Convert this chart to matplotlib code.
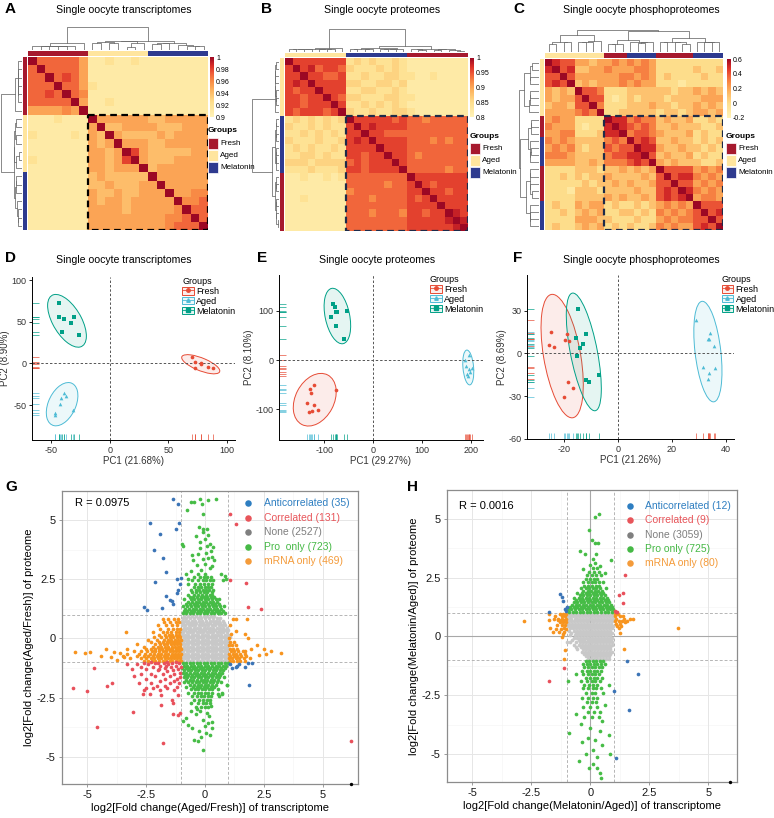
import numpy as np
import matplotlib
matplotlib.use("Agg")
import matplotlib.pyplot as plt
from matplotlib.colors import LinearSegmentedColormap, Normalize, to_rgb, to_rgba
from matplotlib.patches import Rectangle, Ellipse, Patch
from matplotlib.lines import Line2D

plt.rcParams['font.family'] = ['Liberation Sans', 'DejaVu Sans']
plt.rcParams['axes.unicode_minus'] = False

W, H = 774, 818
fig = plt.figure(figsize=(W / 100, H / 100), dpi=100)


def px_axes(l, t, r, b):
    return fig.add_axes([l / W, 1 - b / H, (r - l) / W, (b - t) / H])


# ---------------- heatmap data (lower triangle, one char per cell, X = diagonal)
# A: value = 0.90 + d*0.01
heatA_rows = [
    "X", "7X", "77X", "777X", "7787X", "77777X", "555565X",
    "1112111X", "11111115X", "211112154X", "1111111545X", "11111115545X",
    "211111155458X", "1111111554555X",
    "11111114544444X", "111111144544455X", "1111111544544555X",
    "11111115455455555X", "111111155554555556X", "1111111555555555667X",
    "11111115555555556777X",
]
groupsA = ['Fresh'] * 7 + ['Aged'] * 7 + ['Melatonin'] * 7
# B: value = 0.80 + d*0.02
heatB_rows = [
    "X", "8X", "88X", "898X", "8788X", "88788X", "887888X", "8788878X",
    "23232323X", "322323228X", "2232323288X", "32223223898X",
    "232322328888X", "2233232288788X", "33323333787888X", "222322238878888X",
    "1121121277777777X", "11111111777776778X", "111111116777777788X",
    "1121111177767777878X", "11111111777777778888X", "111111117776777688788X",
    "1111111177777777888889X", "11111111777777778888889X",
]
groupsB = ['Aged'] * 8 + ['Melatonin'] * 8 + ['Fresh'] * 8
# C: value = -0.2 + d*0.1
heatC_rows = [
    "X", "7X", "66X", "676X", "4343X", "43446X", "344366X", "4444565X",
    "45442222X", "544421227X", "4455222377X", "54543333565X",
    "454532336566X", "5554333356677X", "44443343555676X",
    "222233323343434X", "2232323343333436X", "22222323343433466X",
    "222133323333433676X", "2222333343433436767X", "23224344232232345454X",
    "223234342233232545456X", "2222444332223224545566X", "23223434232322354544676X",
]
groupsC = ['Aged'] * 8 + ['Fresh'] * 3 + ['Melatonin'] * 4 + ['Fresh'] * 5 + ['Melatonin'] * 4

group_names = ['Fresh', 'Aged', 'Melatonin']
group_colors = {'Fresh': '#A6192E', 'Aged': '#FFE59E', 'Melatonin': '#2E3A8F'}
heat_cmap = LinearSegmentedColormap.from_list(
    'heat', [(0, '#FFF3B8'), (0.25, '#FEDE8C'), (0.45, '#FDB35F'), (0.6, '#F88A45'),
             (0.72, '#F0603A'), (0.85, '#DC2F28'), (1, '#9C0824')])

# ---------------- PCA data
pca_colors = {'Fresh': '#E64B35', 'Aged': '#4DBBD5', 'Melatonin': '#00A087'}
pca_markers = {'Fresh': 'o', 'Aged': '^', 'Melatonin': 's'}
pcaD = {
    'Fresh': [(70, 7.6), (73, 2), (72.6, -5), (77.7, -1), (78, 0), (84, -4.4), (88.6, -5.6)],
    'Aged': [(-39, -35), (-37.4, -39), (-41.7, -42), (-42.6, -49), (-31.4, -55.6), (-46.9, -60), (-47, -62)],
    'Melatonin': [(-43.7, 73.2), (-43.4, 56), (-39, 53), (-31, 56), (-33, 49), (-40.6, 38), (-26, 34)],
}
pcaE = {
    'Fresh': [(-120, -50), (-129, -58), (-126, -66), (-75, -60), (-135, -87), (-120, -90),
              (-131, -105), (-124, -104), (-112, -102)],
    'Aged': [(194.6, 10.2), (187.8, 0.7), (189, -10.8), (196, -17), (201.4, -16.3), (191, -28.5),
             (198, -24.4), (194, -31.9)],
    'Melatonin': [(-82, 114.6), (-77.6, 108), (-76, 98), (-73, 97), (-53, 100), (-86, 87), (-76, 69), (-60, 44)],
}
pcaF = {
    'Fresh': [(-24.6, 15.2), (-25.6, 6), (-23.7, 4.7), (-18.8, 13.6), (-19.4, 9.4), (-18.2, 8.7),
              (-18.6, -19.7), (-16.6, -24.4), (-19.8, -30.2)],
    'Aged': [(28.9, 23.2), (34.2, 14), (33.2, 10), (33.6, 10.4), (35.5, 5.4), (31.4, -9.4), (36, -10.3),
             (33.8, -13.6), (33.5, -18)],
    'Melatonin': [(-14.8, 30.9), (-11.6, 13.8), (-15.3, 10.5), (-12.9, 6.6), (-14, 3.5), (-15.1, -2.1),
                  (-11.7, -18.7), (-10.7, -19.7), (-7.1, -15.2)],
}

# ---------------- scatter data G (Aged/Fresh)
G_none_rows = [
    (0.95, [-0.9, -0.7, -0.55, -0.4, -0.2, -0.05, 0.1, 0.25, 0.4]),
    (0.85, [-0.95, -0.8, -0.62, -0.48, -0.3, -0.15, 0.02, 0.18, 0.33, 0.5, 0.62]),
    (0.75, [-0.97, -0.85, -0.7, -0.55, -0.42, -0.27, -0.12, 0.05, 0.2, 0.35, 0.48, 0.6, 0.75]),
    (0.65, [-0.92, -0.78, -0.64, -0.5, -0.36, -0.22, -0.08, 0.07, 0.22, 0.37, 0.52, 0.66, 0.8]),
    (0.55, [-0.96, -0.83, -0.69, -0.55, -0.41, -0.27, -0.13, 0.01, 0.15, 0.3, 0.44, 0.58, 0.72, 0.86]),
    (0.45, [-0.9, -0.76, -0.62, -0.48, -0.34, -0.2, -0.06, 0.08, 0.22, 0.36, 0.5, 0.64, 0.78, 0.92]),
    (0.35, [-0.97, -0.83, -0.69, -0.55, -0.41, -0.27, -0.13, 0.02, 0.16, 0.3, 0.44, 0.58, 0.72, 0.86, 0.97]),
    (0.25, [-0.92, -0.77, -0.63, -0.49, -0.35, -0.21, -0.07, 0.08, 0.22, 0.36, 0.5, 0.64, 0.78, 0.92]),
    (0.15, [-0.97, -0.84, -0.7, -0.56, -0.42, -0.28, -0.14, 0.0, 0.14, 0.28, 0.42, 0.56, 0.7, 0.84, 0.98]),
    (0.05, [-0.9, -0.77, -0.63, -0.49, -0.35, -0.21, -0.07, 0.07, 0.21, 0.35, 0.49, 0.63, 0.77, 0.91, 1.05]),
    (-0.05, [-0.97, -0.84, -0.7, -0.56, -0.42, -0.28, -0.14, 0.0, 0.14, 0.28, 0.42, 0.56, 0.7, 0.84, 0.98]),
    (-0.15, [-0.92, -0.77, -0.63, -0.49, -0.35, -0.21, -0.07, 0.07, 0.21, 0.35, 0.49, 0.63, 0.77, 0.91]),
    (-0.25, [-0.97, -0.84, -0.7, -0.56, -0.42, -0.28, -0.14, 0.0, 0.14, 0.28, 0.42, 0.56, 0.7, 0.84, 0.98]),
    (-0.35, [-0.9, -0.77, -0.63, -0.49, -0.35, -0.21, -0.07, 0.07, 0.21, 0.35, 0.49, 0.63, 0.77, 0.91]),
    (-0.45, [-0.97, -0.84, -0.7, -0.56, -0.42, -0.28, -0.14, 0.0, 0.14, 0.28, 0.42, 0.56, 0.7, 0.84, 0.96]),
    (-0.55, [-0.92, -0.77, -0.63, -0.49, -0.35, -0.21, -0.07, 0.07, 0.21, 0.35, 0.49, 0.63, 0.77, 0.91]),
    (-0.65, [-0.97, -0.84, -0.7, -0.56, -0.42, -0.28, -0.14, 0.0, 0.14, 0.28, 0.42, 0.56, 0.7, 0.84, 0.97]),
    (-0.75, [-0.9, -0.77, -0.63, -0.49, -0.35, -0.21, -0.07, 0.07, 0.21, 0.35, 0.49, 0.63, 0.77, 0.91]),
    (-0.85, [-0.97, -0.84, -0.7, -0.56, -0.42, -0.28, -0.14, 0.0, 0.14, 0.28, 0.42, 0.56, 0.7, 0.84, 0.97]),
    (-0.95, [-0.92, -0.77, -0.63, -0.49, -0.35, -0.21, -0.07, 0.07, 0.21, 0.35, 0.49, 0.63, 0.77, 0.91]),
]
G_pro_rows = [
    (1.05, [-0.95, -0.8, -0.65, -0.5, -0.35, -0.2, -0.05, 0.1, 0.25, 0.4, 0.55, 0.7, 0.85]),
    (1.15, [-0.9, -0.75, -0.6, -0.45, -0.3, -0.15, 0.0, 0.15, 0.3, 0.45, 0.6, 0.75]),
    (1.25, [-0.85, -0.68, -0.52, -0.38, -0.22, -0.08, 0.08, 0.22, 0.38, 0.52, 0.68]),
    (1.35, [-0.92, -0.75, -0.6, -0.42, -0.28, -0.12, 0.02, 0.18, 0.33, 0.48, 0.62, 0.8]),
    (1.45, [-0.8, -0.62, -0.48, -0.32, -0.18, -0.02, 0.12, 0.28, 0.42, 0.58]),
    (1.55, [-0.7, -0.55, -0.4, -0.25, -0.1, 0.05, 0.2, 0.35, 0.5]),
    (1.65, [-0.88, -0.6, -0.45, -0.3, -0.15, 0.0, 0.15, 0.3, 0.45, 0.6]),
    (1.75, [-0.65, -0.5, -0.32, -0.18, -0.05, 0.1, 0.25, 0.4]),
    (1.85, [-0.72, -0.45, -0.3, -0.12, 0.05, 0.2, 0.32]),
    (1.95, [-0.55, -0.38, -0.2, -0.05, 0.1, 0.28]),
    (2.05, [-0.6, -0.4, -0.25, -0.1, 0.05, 0.18, 0.35]),
    (2.15, [-0.48, -0.3, -0.15, 0.0, 0.12, 0.25]),
    (2.3, [-0.7, -0.42, -0.22, -0.02, 0.15, 0.3]),
    (2.45, [-0.55, -0.3, -0.1, 0.05, 0.2, 0.35, 0.78]),
    (2.6, [-0.45, -0.2, -0.05, 0.1, 0.25]),
    (2.7, [-0.8, -0.3, 0.02, 0.7]),
    (-1.05, [-0.95, -0.8, -0.65, -0.5, -0.35, -0.2, -0.05, 0.1, 0.25, 0.4, 0.55, 0.7, 0.85, 0.97]),
    (-1.15, [-0.9, -0.75, -0.6, -0.45, -0.3, -0.15, 0.0, 0.15, 0.3, 0.45, 0.6, 0.75, 0.9]),
    (-1.25, [-0.97, -0.82, -0.68, -0.52, -0.38, -0.22, -0.08, 0.08, 0.22, 0.38, 0.52, 0.68, 0.85]),
    (-1.35, [-0.88, -0.72, -0.58, -0.42, -0.28, -0.12, 0.02, 0.18, 0.33, 0.48, 0.62, 0.78]),
    (-1.45, [-0.95, -0.8, -0.62, -0.48, -0.32, -0.18, -0.02, 0.12, 0.28, 0.42, 0.58, 0.72]),
    (-1.55, [-0.85, -0.7, -0.55, -0.4, -0.25, -0.1, 0.05, 0.2, 0.35, 0.5, 0.65]),
    (-1.65, [-0.9, -0.75, -0.6, -0.45, -0.3, -0.15, 0.0, 0.15, 0.3, 0.45, 0.6, 0.8]),
    (-1.75, [-0.8, -0.65, -0.5, -0.32, -0.18, -0.05, 0.1, 0.25, 0.4, 0.55]),
    (-1.85, [-0.9, -0.72, -0.55, -0.4, -0.25, -0.1, 0.05, 0.2, 0.35, 0.5, 0.7]),
    (-1.95, [-0.62, -0.45, -0.3, -0.15, 0.0, 0.15, 0.3, 0.45, 0.92]),
    (-2.05, [-0.8, -0.5, -0.35, -0.2, -0.05, 0.1, 0.25, 0.4]),
    (-2.15, [-0.6, -0.42, -0.28, -0.12, 0.02, 0.18, 0.32, 0.55]),
    (-2.3, [-0.7, -0.48, -0.3, -0.15, 0.0, 0.15, 0.3, 0.71]),
    (-2.45, [-0.55, -0.35, -0.18, -0.02, 0.12, 0.25, 0.6]),
    (-2.6, [-0.45, -0.25, -0.08, 0.08, 0.22]),
    (-2.75, [-0.6, -0.3, -0.1, 0.05, 0.2]),
    (-2.9, [-0.4, -0.15, 0.0, 0.15]),
]
G_pro_pts = [(-0.6, 2.85), (-0.15, 2.9), (0.2, 2.95), (-0.35, 3.1), (0.0, 3.15), (0.3, 3.05), (-0.5, 3.3),
             (-0.1, 3.35), (0.15, 3.4), (0.4, 3.3), (-0.3, 3.55), (0.05, 3.6), (0.25, 3.7), (-0.56, 3.51),
             (-0.2, 3.8), (0.1, 3.9), (0.35, 3.86), (-0.92, 3.9), (-0.96, 4.0), (-0.21, 4.07), (0.0, 4.2),
             (0.14, 4.35), (-0.1, 4.5), (-0.24, 4.68), (-0.07, 4.63), (0.07, 4.61), (-0.14, 5.69), (-0.07, 5.27),
             (-0.75, 5.41), (-0.59, 5.76), (-0.45, 5.76), (-0.21, 5.9), (0.11, 5.86), (0.47, 5.87), (0.2, 4.0),
             (-0.4, 4.3), (0.3, 3.45), (-0.7, 2.5), (0.85, 2.65), (0.9, 2.5),
             (-0.95, -3.5), (-0.82, -3.35), (-0.71, -3.65), (-0.55, -3.8), (-0.4, -3.2), (-0.2, -3.05),
             (0.1, -3.16), (0.18, -3.3), (0.14, -3.58), (0.32, -3.55), (-0.1, -3.45), (0.0, -3.7),
             (-0.25, -3.9), (0.05, -4.0), (-0.15, -4.15), (-0.28, -4.35), (-0.48, -4.3), (-0.1, -4.7),
             (0.2, -4.1), (0.92, -1.97), (0.71, -2.35), (0.57, -2.35), (-0.35, -3.0), (0.25, -2.85),
             (-0.6, -3.05), (0.3, -3.8)]
G_mrna_rows = [
    (-0.95, [-2.6, -2.4, -2.25, -2.1, -1.95, -1.8, -1.65, -1.5, -1.38, -1.25, -1.12, -1.02,
             1.05, 1.2, 1.35, 1.5, 1.7]),
    (-0.85, [-3.2, -2.7, -2.5, -2.3, -2.15, -2.0, -1.85, -1.7, -1.55, -1.42, -1.3, -1.18, -1.05,
             1.02, 1.15, 1.3, 1.45, 1.65, 1.9]),
    (-0.75, [-3.5, -2.9, -2.6, -2.4, -2.2, -2.05, -1.9, -1.75, -1.6, -1.45, -1.32, -1.2, -1.08,
             1.08, 1.22, 1.38, 1.55, 1.75]),
    (-0.65, [-3.3, -2.8, -2.55, -2.35, -2.15, -2.0, -1.85, -1.7, -1.55, -1.4, -1.28, -1.15, -1.03,
             1.03, 1.18, 1.32, 1.48, 1.72, 2.61]),
    (-0.55, [-3.0, -2.7, -2.45, -2.25, -2.1, -1.95, -1.8, -1.65, -1.5, -1.35, -1.22, -1.1,
             1.1, 1.25, 1.42, 1.72, 2.82]),
    (-0.45, [-3.3, -2.5, -2.3, -2.12, -1.97, -1.82, -1.67, -1.52, -1.38, -1.25, -1.12, -1.02,
             1.05, 1.2, 1.38, 2.51]),
    (-0.35, [-2.6, -2.2, -2.0, -1.85, -1.7, -1.55, -1.4, -1.28, -1.15, -1.05]),
    (-0.3, [1.02, 1.15, 1.3, 2.19]),
    (-0.25, [-2.9, -2.1, -1.9, -1.75, -1.6, -1.45, -1.32, -1.2, -1.08]),
    (-0.15, [-2.3, -1.95, -1.8, -1.62, -1.48, -1.35, -1.22, -1.1, 1.08, 1.25]),
    (-0.05, [-2.4, -2.05, -1.75, -1.58, -1.42, -1.28, -1.15, -1.03]),
    (0.0, [1.04, 1.84]),
    (0.05, [-2.15, -1.85, -1.65, -1.5, -1.35, -1.2, -1.08]),
    (0.15, [-1.95, -1.7, -1.52, -1.38, -1.22, -1.1]),
    (0.17, [1.1, 1.72]),
    (0.28, [-3.35, -2.2, -1.8, -1.6, -1.42, -1.25, -1.1]),
    (0.31, [1.34]),
    (0.4, [-1.9, -1.55, -1.35, -1.18, -1.05]),
    (0.55, [-2.0, -1.65, -1.4, -1.2, 1.05]),
    (0.7, [-1.75, -1.5, -1.25, -1.1]),
    (0.8, [1.2, 1.31, 1.77]),
    (0.82, [-1.79, -1.55, -1.3, -1.15]),
]
G_mrna_pts = [(-5.51, -0.58), (-5.08, -0.63), (-4.9, -0.56), (-4.19, -0.45), (-3.88, -0.56), (-4.0, -0.77),
              (-3.6, -0.6), (-3.75, -0.9), (-3.45, -0.8), (-4.4, -0.75), (3.22, -0.6), (1.6, -0.55),
              (2.3, -0.7), (1.95, -0.45)]
G_cor_pts = [(1.06, 5.25), (1.3, 4.82), (1.06, 2.46), (1.74, 2.32), (1.82, 1.33), (2.4, 1.22), (6.21, -4.33),
             (-5.6, -2.1), (-5.0, -2.22), (-4.73, -1.26), (-4.59, -3.75), (-4.17, -2.0), (-3.93, -1.9),
             (-3.04, -3.13), (-2.61, -2.36), (-2.51, -2.1), (-1.86, -2.81), (-1.79, -4.44), (-1.34, -2.74),
             (-1.34, -3.2), (-1.16, -3.23), (-1.06, -3.17),
             (-2.9, -1.1), (-2.7, -1.2), (-2.6, -1.05), (-2.5, -1.3), (-2.4, -1.1), (-2.3, -1.5), (-2.2, -1.2),
             (-2.1, -1.05), (-2.0, -1.35), (-1.9, -1.15), (-1.8, -1.5), (-1.75, -1.05), (-1.7, -1.25),
             (-1.6, -1.4), (-1.55, -1.1), (-1.5, -1.6), (-1.45, -1.2), (-1.4, -1.05), (-1.35, -1.35),
             (-1.3, -1.5), (-1.25, -1.15), (-1.2, -1.7), (-1.15, -1.3), (-1.1, -1.05), (-1.05, -1.45),
             (-1.02, -1.2), (-1.1, -1.9), (-1.3, -1.8), (-1.5, -1.9), (-1.7, -1.7), (-1.9, -1.8),
             (-2.1, -1.6), (-2.3, -1.9), (-2.5, -1.7), (-2.7, -1.5), (-3.1, -1.3), (-3.3, -1.1),
             (-2.2, -2.1), (-1.9, -2.2), (-1.6, -2.1), (-1.3, -2.2), (-1.15, -2.4), (-2.8, -1.9),
             (-3.0, -1.6), (-1.4, -2.6), (-1.85, -2.4), (-2.05, -2.0), (-1.25, -1.0), (-1.6, -1.02),
             (-2.0, -1.03), (-2.3, -1.02), (-1.05, -1.65), (-1.2, -2.05), (-1.7, -2.0), (-2.6, -2.2),
             (-2.35, -2.35), (-1.95, -1.3), (-1.65, -1.15)]
G_anti_pts = [(-1.37, 5.9), (-1.16, 5.69), (-2.33, 4.87), (-1.91, 4.42), (-1.24, 4.6), (-1.1, 4.87),
              (-2.16, 3.75), (-1.77, 3.4), (-1.67, 2.78), (-2.13, 2.39), (-1.2, 2.49), (-1.03, 2.56),
              (-1.06, 2.28), (-1.16, 2.04), (-1.2, 1.9), (-1.67, 1.8), (-1.5, 1.62), (-1.4, 1.57),
              (-1.82, 1.29), (-2.58, 1.33), (-2.46, 1.19), (-1.36, 1.45),
              (1.06, -1.08), (1.16, -1.24), (1.3, -1.19), (1.44, -1.1), (1.69, -1.22), (2.0, -1.03),
              (1.84, -1.05), (1.85, -1.97), (1.38, -1.15)]

# ---------------- scatter data H (Melatonin/Aged)
H_none_rows = [
    (0.95, [-0.95, -0.82, -0.7, -0.57, -0.45, -0.32, -0.2, -0.07, 0.05, 0.18, 0.3, 0.43, 0.55, 0.68, 0.8, 0.92]),
    (0.85, [-0.98, -0.85, -0.72, -0.6, -0.47, -0.35, -0.22, -0.1, 0.02, 0.15, 0.28, 0.4, 0.52, 0.65, 0.78, 0.9]),
    (0.75, [-0.92, -0.8, -0.67, -0.55, -0.42, -0.3, -0.17, -0.05, 0.08, 0.2, 0.33, 0.45, 0.58, 0.7, 0.83, 0.95]),
    (0.65, [-0.96, -0.83, -0.7, -0.58, -0.45, -0.33, -0.2, -0.08, 0.05, 0.17, 0.3, 0.42, 0.55, 0.67, 0.8, 0.92]),
    (0.55, [-0.9, -0.77, -0.64, -0.52, -0.4, -0.27, -0.15, -0.02, 0.1, 0.23, 0.35, 0.48, 0.6, 0.73, 0.86]),
    (0.45, [-0.95, -0.8, -0.68, -0.55, -0.43, -0.3, -0.18, -0.05, 0.07, 0.2, 0.32, 0.45, 0.57, 0.7, 0.82, 0.95]),
    (0.35, [-0.88, -0.74, -0.6, -0.48, -0.35, -0.22, -0.1, 0.03, 0.15, 0.28, 0.4, 0.53, 0.65, 0.78, 0.9]),
    (0.25, [-0.9, -0.7, -0.55, -0.42, -0.3, -0.17, -0.05, 0.08, 0.2, 0.33, 0.45, 0.58, 0.7, 0.83]),
    (0.15, [-0.8, -0.62, -0.48, -0.35, -0.22, -0.1, 0.03, 0.15, 0.28, 0.4, 0.53, 0.65, 0.78, 0.92]),
    (0.05, [-0.85, -0.66, -0.52, -0.4, -0.27, -0.15, -0.02, 0.1, 0.23, 0.35, 0.48, 0.6, 0.72, 0.85]),
    (-0.05, [-0.7, -0.55, -0.42, -0.3, -0.17, -0.05, 0.08, 0.2, 0.32, 0.45, 0.58, 0.7, 0.82, 0.92]),
    (-0.15, [-0.78, -0.5, -0.38, -0.25, -0.12, 0.0, 0.12, 0.25, 0.38, 0.5, 0.62, 0.75, 0.88]),
    (-0.25, [-1.0, -0.85, -0.62, -0.45, -0.32, -0.2, -0.07, 0.05, 0.18, 0.3, 0.42, 0.55, 0.68, 0.8, 0.92]),
    (-0.35, [-0.7, -0.5, -0.35, -0.22, -0.1, 0.02, 0.15, 0.28, 0.4, 0.52, 0.65, 0.78, 0.9]),
    (-0.45, [-0.6, -0.4, -0.27, -0.15, -0.02, 0.1, 0.22, 0.35, 0.48, 0.6, 0.72, 0.85]),
    (-0.55, [-0.55, -0.3, -0.18, -0.05, 0.08, 0.2, 0.32, 0.45, 0.58, 0.7, 0.82]),
    (-0.65, [-0.35, -0.22, -0.1, 0.02, 0.15, 0.28, 0.4, 0.52, 0.65, 0.78, 0.9]),
    (-0.75, [-0.28, -0.15, -0.02, 0.1, 0.22, 0.35, 0.48, 0.6, 0.72, 0.85]),
    (-0.85, [-0.2, -0.08, 0.05, 0.18, 0.3, 0.42, 0.55, 0.68, 0.8]),
    (-0.95, [-0.1, 0.02, 0.15, 0.28, 0.4, 0.52, 0.65, 0.78]),
]
H_pro_rows = [
    (1.05, [-0.9, -0.75, -0.6, -0.45, -0.3, -0.15, 0.0, 0.15, 0.3, 0.45, 0.6, 0.75, 0.9]),
    (1.15, [-0.95, -0.8, -0.65, -0.5, -0.35, -0.2, -0.05, 0.1, 0.25, 0.4, 0.55, 0.7, 0.85, 0.98]),
    (1.25, [-0.85, -0.7, -0.55, -0.4, -0.25, -0.1, 0.05, 0.2, 0.35, 0.5, 0.65, 0.8, 0.92]),
    (1.35, [-0.78, -0.62, -0.48, -0.32, -0.18, -0.02, 0.12, 0.28, 0.42, 0.58, 0.72, 0.88]),
    (1.45, [-0.7, -0.55, -0.4, -0.25, -0.1, 0.05, 0.2, 0.35, 0.5, 0.65, 0.8]),
    (1.55, [-0.6, -0.45, -0.3, -0.15, 0.0, 0.15, 0.3, 0.45, 0.6, 0.75]),
    (1.65, [-0.68, -0.5, -0.35, -0.2, -0.05, 0.1, 0.25, 0.4, 0.55, 0.7]),
    (1.75, [-0.45, -0.3, -0.15, 0.0, 0.15, 0.3, 0.45, 0.6]),
    (1.85, [-0.55, -0.35, -0.2, -0.05, 0.1, 0.25, 0.4, 0.55]),
    (1.95, [-0.3, -0.12, 0.02, 0.18, 0.32, 0.48]),
    (2.05, [-0.4, -0.2, -0.05, 0.1, 0.25, 0.4, 0.65]),
    (2.15, [-0.25, -0.08, 0.08, 0.22, 0.38]),
    (2.3, [-0.3, -0.1, 0.05, 0.2, 0.35, 0.55]),
    (2.45, [-0.2, 0.0, 0.15, 0.3]),
    (2.6, [-0.15, 0.05, 0.25, 0.45]),
    (2.75, [-0.05, 0.15, 0.35]),
    (2.9, [0.1, 0.3]),
    (-1.05, [-0.2, -0.05, 0.1, 0.25, 0.4, 0.55]),
    (-1.15, [-0.3, -0.15, 0.0, 0.15, 0.3, 0.45, 0.6]),
    (-1.3, [-0.25, -0.1, 0.05, 0.2, 0.35, 0.5]),
    (-1.45, [-0.35, -0.15, 0.0, 0.15, 0.3, 0.45]),
    (-1.6, [-0.6, -0.3, -0.1, 0.05, 0.2, 0.38]),
    (-1.75, [-0.2, 0.0, 0.15, 0.3, 0.5]),
    (-1.9, [-0.95, -0.4, -0.15, 0.05, 0.2, 0.4]),
    (-2.05, [-0.25, -0.05, 0.12, 0.28, 0.8]),
    (-2.2, [-0.3, -0.1, 0.1, 0.25, 0.45]),
    (-2.4, [-0.2, 0.05, 0.2, 0.55]),
    (-2.6, [-0.35, -0.1, 0.12, 0.3]),
    (-2.8, [-0.15, 0.05, 0.25]),
    (-3.0, [-0.3, 0.0, 0.3]),
    (-3.2, [-0.1, 0.15, 0.4]),
    (-3.4, [-0.25, 0.05, 0.35]),
]
H_pro_pts = [(0.35, 5.19), (0.18, 5.09), (-0.04, 4.53), (0.07, 4.1), (0.18, 3.96), (0.31, 3.96), (-0.45, 3.64),
             (-0.21, 3.49), (0.89, 3.24), (0.2, 3.1), (0.0, 3.05), (0.4, 3.0), (-0.3, 2.85), (0.6, 2.7),
             (0.1, 3.3), (0.25, 3.5),
             (-0.92, -4.1), (-0.49, -5.3), (0.47, -6.0), (0.42, -5.8), (0.1, -5.42), (-0.2, -5.0), (0.1, -4.8),
             (0.3, -5.1), (-0.35, -4.5), (-0.1, -4.3), (0.2, -4.4), (0.4, -4.0), (-0.4, -3.7), (0.0, -3.9),
             (0.5, -3.6), (0.8, -4.2), (0.85, -5.0), (-0.6, -3.3), (0.6, -2.9), (0.3, -5.6), (-0.05, -5.6),
             (0.5, -4.6)]
H_mrna_rows = [
    (0.95, [-1.74, -1.3, -1.15, -1.05, 1.05, 1.18]),
    (0.85, [-1.5, -1.2, -1.08, 1.06, 1.25, 1.4]),
    (0.75, [-1.55, -1.35, -1.18, -1.03, 1.1, 1.41, 1.69, 1.8]),
    (0.68, [-1.37, -1.25, -1.1]),
    (0.65, [1.03, 1.2, 1.35, 1.55]),
    (0.6, [-1.3, -1.15, -1.02]),
    (0.55, [1.08, 1.25]),
    (0.5, [-1.4, -1.2, -1.06]),
    (0.45, [1.12, 1.3]),
    (0.38, [-1.72, -1.12]),
    (0.35, [1.2]),
    (0.3, [-1.45, -1.25, -1.05]),
    (0.2, [-1.34, -1.1]),
    (0.14, [1.27]),
    (0.1, [-1.15]),
    (-0.04, [-1.2]),
]
H_mrna_pts = [(-2.8, 0.64), (-1.77, 0.71), (-1.06, -0.57), (-1.13, -0.96), (-1.6, 0.2), (3.72, 0.38),
              (1.41, -0.54), (1.48, 0.61)]
H_cor_pts = [(1.48, 2.59), (1.38, 1.84), (1.2, 1.74), (1.38, 1.41), (1.06, 1.09), (1.13, 1.06),
             (-1.12, -1.34), (-1.75, -1.87), (1.08, 1.02)]
H_anti_pts = [(-1.77, 1.06), (-1.27, 1.8), (-1.2, 1.67), (-1.17, 1.49), (-1.06, 1.17), (-0.99, 1.24),
              (1.02, -2.3), (1.54, -1.06), (2.0, -1.6), (1.62, -3.14), (1.09, -5.16), (-1.02, 1.1)]

scatter_colors = {'anti': '#3B74B6', 'cor': '#E8505B', 'none': '#C8C8C8', 'pro': '#46BC46', 'mrna': '#F7941E'}
legend_colors = {'anti': '#2E7EC1', 'cor': '#E8555A', 'none': '#7F7F7F', 'pro': '#46B946', 'mrna': '#F49B3A'}
G_labels = ['Anticorrelated (35)', 'Correlated (131)', 'None (2527)', 'Pro  only (723)', 'mRNA only (469)']
H_labels = ['Anticorrelated (12)', 'Correlated (9)', 'None (3059)', 'Pro only (725)', 'mRNA only (80)']
fold_ticks = [-5, -2.5, 0, 2.5, 5]


def expand(rows, pts=()):
    p = [(x, y) for y, xs in rows for x in xs] + list(pts)
    return np.array(p)


def full_matrix(rows, lo, step):
    n = len(rows)
    m = np.ones((n, n))
    for i, r in enumerate(rows):
        for j, ch in enumerate(r[:i + 1]):
            v = 1.0 if ch == 'X' else lo + int(ch) * step
            m[i, j] = v
            m[j, i] = v
    return m


def ordered_tree(m):
    # complete linkage on euclidean row distances, merging only neighbours so
    # the leaf order stays as displayed
    n = len(m)
    dist = np.sqrt(((m[:, None, :] - m[None, :, :]) ** 2).sum(-1))
    members = [[i] for i in range(n)]
    pos = [i + 0.5 for i in range(n)]
    hts = [0.0] * n
    links = []
    while len(members) > 1:
        gaps = [dist[np.ix_(members[k], members[k + 1])].max() for k in range(len(members) - 1)]
        k = int(np.argmin(gaps))
        h = max(gaps[k], hts[k], hts[k + 1])
        links.append((pos[k], hts[k], pos[k + 1], hts[k + 1], h))
        members[k:k + 2] = [members[k] + members[k + 1]]
        pos[k:k + 2] = [(pos[k] + pos[k + 1]) / 2]
        hts[k:k + 2] = [h]
    return links, hts[0]


def draw_heatmap(rows, lo, step, vmin, vmax, ticks, groups, box, box_col, pos):
    m = full_matrix(rows, lo, step)
    n = len(m)
    norm = Normalize(vmin, vmax)
    ax = px_axes(*pos['heat'])
    ax.imshow(m, cmap=heat_cmap, norm=norm, aspect='auto', interpolation='nearest', extent=(0, n, n, 0))
    ax.add_patch(Rectangle((box, box), n - box, n - box, fill=False, ls=(0, (3, 2)), lw=1.6, ec=box_col))
    ax.set_xlim(0, n)
    ax.set_ylim(n, 0)
    ax.axis('off')

    rgb = np.array([to_rgb(group_colors[g]) for g in groups])
    axt = px_axes(*pos['top_bar'])
    axt.imshow(rgb[None, :, :], aspect='auto', extent=(0, n, 1, 0))
    axt.axis('off')
    axl = px_axes(*pos['left_bar'])
    axl.imshow(rgb[:, None, :], aspect='auto', extent=(0, 1, n, 0))
    axl.axis('off')

    links, root = ordered_tree(m)
    axd = px_axes(*pos['top_dendro'])
    axe = px_axes(*pos['left_dendro'])
    for x1, h1, x2, h2, h in links:
        axd.plot([x1, x1, x2, x2], [h1, h, h, h2], color='#6A6A6A', lw=0.55)
        axe.plot([h1, h, h, h2], [x1, x1, x2, x2], color='#6A6A6A', lw=0.55)
    axd.set_xlim(0, n)
    axd.set_ylim(0, root * 1.01)
    axe.set_ylim(n, 0)
    axe.set_xlim(root * 1.01, 0)
    axd.axis('off')
    axe.axis('off')

    cax = px_axes(*pos['cbar'])
    sm = plt.cm.ScalarMappable(norm=norm, cmap=heat_cmap)
    cb = fig.colorbar(sm, cax=cax, ticks=ticks)
    cb.outline.set_visible(False)
    cb.ax.set_yticklabels([f'{v:g}' for v in ticks])
    cb.ax.tick_params(labelsize=5, length=0, pad=1.5)

    lx, ly = pos['legend']
    fig.text(lx / W, 1 - ly / H, 'Groups', fontsize=6, fontweight='bold', va='center', ha='left')
    for i, g in enumerate(group_names):
        top = ly + 7 + i * 12
        fig.patches.append(Rectangle((lx / W, 1 - (top + 11) / H), 10 / W, 11 / H, transform=fig.transFigure,
                                     fc=group_colors[g], ec='white', lw=0.5))
        fig.text((lx + 12) / W, 1 - (top + 5.5) / H, g, fontsize=5.8, va='center', ha='left')


def draw_pca(ax, data, xlim, ylim, xticks, yticks, xlabel, ylabel, rug_of, leg_x):
    r = np.sqrt(-2 * np.log(0.05))
    handles = []
    for g in group_names:
        P = np.array(data[g], dtype=float)
        c = pca_colors[g]
        mean = P.mean(0)
        vals, vecs = np.linalg.eigh(np.cov(P.T))
        ang = np.degrees(np.arctan2(vecs[1, 1], vecs[0, 1]))
        ax.add_patch(Ellipse(mean, 2 * r * np.sqrt(vals[1]), 2 * r * np.sqrt(vals[0]), angle=ang,
                             fc=to_rgba(c, 0.1), ec=c, lw=0.7))
        ax.scatter(P[:, 0], P[:, 1], s=7, marker=pca_markers[g], color=c, lw=0, zorder=3)
        rc = pca_colors[rug_of[g]]
        ax.vlines(P[:, 0], 0, 0.035, transform=ax.get_xaxis_transform(), colors=rc, lw=0.6, alpha=0.8)
        ax.hlines(P[:, 1], 0, 0.035, transform=ax.get_yaxis_transform(), colors=rc, lw=0.6, alpha=0.8)
        handles.append((Patch(fc=to_rgba(c, 0.1), ec=c, lw=0.7),
                        Line2D([], [], color=c, marker=pca_markers[g], ms=2.5, lw=0.6)))
    ax.axvline(0, color='#555555', ls=(0, (2.5, 2)), lw=0.7)
    ax.axhline(0, color='#555555', ls=(0, (2.5, 2)), lw=0.7)
    ax.set_xlim(*xlim)
    ax.set_ylim(*ylim)
    ax.set_xticks(xticks)
    ax.set_yticks(yticks)
    ax.spines[['top', 'right']].set_visible(False)
    for s in ('left', 'bottom'):
        ax.spines[s].set_linewidth(0.7)
    ax.tick_params(labelsize=6.5, length=2.5, width=0.6, pad=1.5, labelcolor='#333333')
    ax.set_xlabel(xlabel, fontsize=7, labelpad=1, color='#333333')
    ax.set_ylabel(ylabel, fontsize=7, labelpad=1, color='#333333')
    ax.legend(handles, group_names, title='Groups', loc='upper left', bbox_to_anchor=(leg_x, 1.0),
              frameon=False, fontsize=6.5, title_fontsize=6.5, handlelength=1.3, handleheight=0.9,
              handletextpad=0.25, labelspacing=0.1, borderaxespad=0, borderpad=0, alignment='left')


def draw_fold(ax, cats, xlim, ylim, xlabel, ylabel, r_text, labels, zero_lines, leg_y):
    ax.set_facecolor('white')
    for v in [-3.75, -1.25, 1.25, 3.75]:
        ax.axvline(v, color='#F3F3F3', lw=0.4, zorder=0)
        ax.axhline(v, color='#F3F3F3', lw=0.4, zorder=0)
    for v in fold_ticks:
        ax.axvline(v, color='#E6E6E6', lw=0.7, zorder=0)
        ax.axhline(v, color='#E6E6E6', lw=0.7, zorder=0)
    if zero_lines:
        ax.axvline(0, color='#A8A8A8', lw=0.8, zorder=0.5)
        ax.axhline(0, color='#A8A8A8', lw=0.8, zorder=0.5)
    for v in (-1, 1):
        ax.axvline(v, color='#B5B5B5', ls=(0, (3, 2)), lw=0.7, zorder=0.6)
        ax.axhline(v, color='#B5B5B5', ls=(0, (3, 2)), lw=0.7, zorder=0.6)
    for key in ['none', 'mrna', 'pro', 'cor', 'anti']:
        P = cats[key]
        ax.scatter(P[:, 0], P[:, 1], s=7, color=scatter_colors[key], lw=0, zorder=2)
    ax.scatter([xlim[1] - 0.3], [ylim[0]], s=6, color='black', lw=0, zorder=4, clip_on=False)
    ax.set_xlim(*xlim)
    ax.set_ylim(*ylim)
    ax.set_xticks(fold_ticks)
    ax.set_yticks(fold_ticks)
    ax.set_xticklabels([f'{v:g}' for v in fold_ticks])
    ax.set_yticklabels([f'{v:g}' for v in fold_ticks])
    for s in ax.spines.values():
        s.set_color('#8C8C8C')
        s.set_linewidth(0.9)
    ax.tick_params(labelsize=8, length=2.5, width=0.6, color='#8C8C8C', pad=2, labelcolor='#1A1A1A')
    ax.set_xlabel(xlabel, fontsize=8, labelpad=2)
    ax.set_ylabel(ylabel, fontsize=8, labelpad=2)
    ax.text(0.043, leg_y[0], r_text, transform=ax.transAxes, fontsize=8, va='center', ha='left')
    for i, key in enumerate(['anti', 'cor', 'none', 'pro', 'mrna']):
        yy = leg_y[0] - i * leg_y[1]
        ax.scatter([0.63], [yy], s=22, color=legend_colors[key], lw=0, transform=ax.transAxes, zorder=5)
        ax.text(0.684, yy, labels[i], transform=ax.transAxes, fontsize=7.5, va='center', ha='left',
                color=legend_colors[key])


# ---------------- panel letters and titles
for lab, x, y in [('A', 5, 9), ('B', 261, 9), ('C', 513, 9), ('D', 5, 258), ('E', 257, 258),
                  ('F', 513, 258), ('G', 5, 487), ('H', 407, 487)]:
    fig.text(x / W, 1 - y / H, lab, fontsize=11, fontweight='bold', va='center', ha='left')
for t, x, y in [('Single oocyte transcriptomes', 124, 10), ('Single oocyte proteomes', 382, 10),
                ('Single oocyte phosphoproteomes', 641, 10), ('Single oocyte transcriptomes', 124, 260),
                ('Single oocyte proteomes', 377, 260), ('Single oocyte phosphoproteomes', 641, 260)]:
    fig.text(x / W, 1 - y / H, t, fontsize=7.6, va='center', ha='center')

# ---------------- heatmaps A, B, C
draw_heatmap(heatA_rows, 0.90, 0.01, 0.9, 1.0, [0.9, 0.92, 0.94, 0.96, 0.98, 1.0], groupsA, 7, 'black',
             dict(heat=(28, 57, 208, 230), top_bar=(28, 51, 208, 56), top_dendro=(28, 27, 208, 50),
                  left_bar=(23, 57, 27, 230), left_dendro=(1, 57, 22, 230), cbar=(210, 57, 214, 117),
                  legend=(208, 131)))
draw_heatmap(heatB_rows, 0.80, 0.02, 0.8, 1.0, [0.8, 0.85, 0.9, 0.95, 1.0], groupsB, 8, '#1E2B4A',
             dict(heat=(285, 58, 468, 231), top_bar=(285, 53, 468, 57), top_dendro=(285, 29, 468, 52),
                  left_bar=(280, 58, 284, 231), left_dendro=(252, 58, 279, 231), cbar=(470, 58, 474, 117),
                  legend=(470, 136)))
draw_heatmap(heatC_rows, -0.2, 0.1, -0.2, 0.6, [-0.2, 0, 0.2, 0.4, 0.6], groupsC, 8, '#1E2B4A',
             dict(heat=(545, 59, 723, 230), top_bar=(545, 53, 723, 58), top_dendro=(545, 30, 723, 52),
                  left_bar=(540, 59, 544, 230), left_dendro=(519, 59, 539, 230), cbar=(727, 59, 731, 118),
                  legend=(726, 136)))

# ---------------- PCA D, E, F
same = {'Fresh': 'Fresh', 'Aged': 'Aged', 'Melatonin': 'Melatonin'}
swap = {'Fresh': 'Aged', 'Aged': 'Fresh', 'Melatonin': 'Melatonin'}
draw_pca(px_axes(32, 277, 235, 440), pcaD, (-66.6, 107), (-92, 104), [-50, 0, 50, 100], [-50, 0, 50, 100],
         'PC1 (21.68%)', 'PC2 (8.90%)', same, 0.74)
draw_pca(px_axes(279, 275, 483, 440), pcaE, (-192, 224), (-162, 173), [-100, 0, 100, 200], [-100, 0, 100],
         'PC1 (29.27%)', 'PC2 (8.10%)', swap, 0.74)
draw_pca(px_axes(527, 275, 734, 439), pcaF, (-33.6, 43), (-60, 55), [-20, 0, 20, 40], [-60, -30, 0, 30],
         'PC1 (21.26%)', 'PC2 (8.69%)', swap, 0.94)

# ---------------- G, H
catsG = {'none': expand(G_none_rows), 'pro': expand(G_pro_rows, G_pro_pts), 'mrna': expand(G_mrna_rows, G_mrna_pts),
         'cor': np.array(G_cor_pts), 'anti': np.array(G_anti_pts)}
catsH = {'none': expand(H_none_rows), 'pro': expand(H_pro_rows, H_pro_pts), 'mrna': expand(H_mrna_rows, H_mrna_pts),
         'cor': np.array(H_cor_pts), 'anti': np.array(H_anti_pts)}
draw_fold(px_axes(62, 491, 358, 784), catsG, (-6.07, 6.5), (-6.15, 6.22),
          'log2[Fold change(Aged/Fresh)] of transcriptome', 'log2[Fold change(Aged/Fresh)] of proteome',
          'R = 0.0975', G_labels, False, (0.959, 0.0495))
draw_fold(px_axes(447, 490, 737, 782), catsH, (-6.07, 6.21), (-6.18, 6.22),
          'log2[Fold change(Melatonin/Aged)] of transcriptome', 'log2[Fold change(Melatonin/Aged)] of proteome',
          'R = 0.0016', H_labels, True, (0.945, 0.049))

fig.savefig('out.png', dpi=100)
